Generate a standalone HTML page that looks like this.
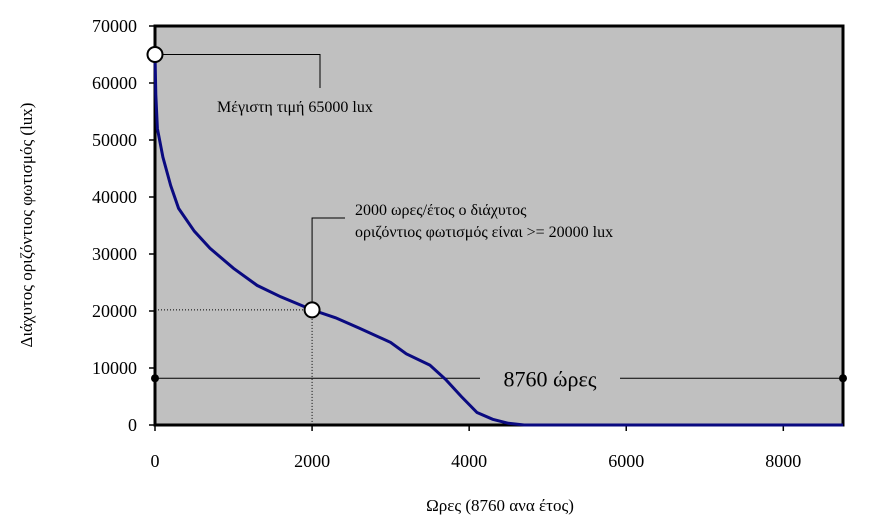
<!DOCTYPE html>
<html><head><meta charset="utf-8"><style>
body{margin:0;background:#fff;}
svg{display:block;font-family:"Liberation Serif","DejaVu Serif",serif;}
</style></head><body>
<svg width="878" height="530" viewBox="0 0 878 530">
<rect x="155" y="26" width="688" height="399" fill="#c0c0c0" stroke="#000" stroke-width="3"/>
<g id="yticks"></g>
<g id="xticks"></g>
<g id="ann"></g>
<path id="curve" fill="none" stroke="#0a0a80" stroke-width="3"/>
<g id="markers"></g>
<text x="32" y="225" transform="rotate(-90 32 225)" text-anchor="middle" font-size="17">Διάχυτος οριζόντιος φωτισμός (lux)</text>
<text x="500" y="511" text-anchor="middle" font-size="17">Ωρες (8760 ανα έτος)</text>
</svg>
<script>
const hours=[0,10,30,100,200,300,500,700,1000,1300,1600,2000,2300,2600,3000,3200,3500,3700,3900,4100,4300,4500,4700,8760];
const lux=[65000,58000,52000,47000,42000,38000,34000,31000,27500,24500,22500,20200,18800,17000,14500,12500,10500,8000,5000,2200,1000,300,0,0];
const yTickLabels=[0,10000,20000,30000,40000,50000,60000,70000];
const xTickLabels=[0,2000,4000,6000,8000];
const X=v=>155+v*(688/8760);
const Y=v=>425-v*(399/70000);
const NS="http://www.w3.org/2000/svg";
function mk(tag,attrs,parent){const e=document.createElementNS(NS,tag);for(const k in attrs)e.setAttribute(k,attrs[k]);parent.appendChild(e);return e;}
const yg=document.getElementById('yticks');
yTickLabels.forEach(v=>{
 const l=mk('line',{x1:149,x2:155,y1:Y(v),y2:Y(v),stroke:'#000','stroke-width':1.5},yg);
 
 
 const t=mk('text',{x:137,y:Y(v)+6,'text-anchor':'end','font-size':18},yg);
 t.textContent=v;
 
 
});
const xg=document.getElementById('xticks');
xTickLabels.forEach(v=>{
 const l=mk('line',{x1:X(v),x2:X(v),y1:425,y2:431,stroke:'#000','stroke-width':1.5},xg);
 
 
 const t=mk('text',{x:X(v),y:467,'text-anchor':'middle','font-size':18},xg);
 t.textContent=v;
 
 
});
document.getElementById('curve').setAttribute('d',hours.map((h,i)=>(i?'L':'M')+X(h).toFixed(1)+','+Y(lux[i]).toFixed(1)).join(' '));
const a=document.getElementById('ann');
const m=document.getElementById('markers');
// max annotation
const mx=X(0),my=Y(65000);
const p1=mk('polyline',{points:`${mx},${my} 320,${my} 320,88`,fill:'none',stroke:'#000','stroke-width':1},a);


const t1=mk('text',{x:217,y:112,'font-size':16},a);
t1.textContent='Μέγιστη τιμή 65000 lux';


// 2000 hours annotation
const px=X(2000),py=Y(20200);
const d1=mk('line',{x1:155,y1:py,x2:px,y2:py,stroke:'#000','stroke-width':1,'stroke-dasharray':'1,2'},a);


const d2=mk('line',{x1:px,y1:py,x2:px,y2:425,stroke:'#000','stroke-width':1,'stroke-dasharray':'1,2'},a);


const p2=mk('polyline',{points:`${px},${py} ${px},218 345,218`,fill:'none',stroke:'#000','stroke-width':1},a);


const t2=mk('text',{x:355,y:215,'font-size':16},a);
t2.textContent='2000 ωρες/έτος ο διάχυτος';


const t3=mk('text',{x:355,y:237,'font-size':16},a);
t3.textContent='οριζόντιος φωτισμός είναι >= 20000 lux';


// 8760 hours span
const sy=Y(8200);
const s1=mk('line',{x1:X(0),y1:sy,x2:480,y2:sy,stroke:'#000','stroke-width':1},a);


const s2=mk('line',{x1:620,y1:sy,x2:X(8760),y2:sy,stroke:'#000','stroke-width':1},a);


const t4=mk('text',{x:550,y:sy+8,'text-anchor':'middle','font-size':22},a);
t4.textContent='8760 ώρες';


[X(0),X(8760)].forEach(x=>{
 const c=mk('circle',{cx:x,cy:sy,r:4,fill:'#000'},a);
 
 
});
const c1=mk('circle',{cx:mx,cy:my,r:7.5,fill:'#fff',stroke:'#000','stroke-width':2},m);


const c2=mk('circle',{cx:px,cy:py,r:7.5,fill:'#fff',stroke:'#000','stroke-width':2},m);


</script>
</body></html>
